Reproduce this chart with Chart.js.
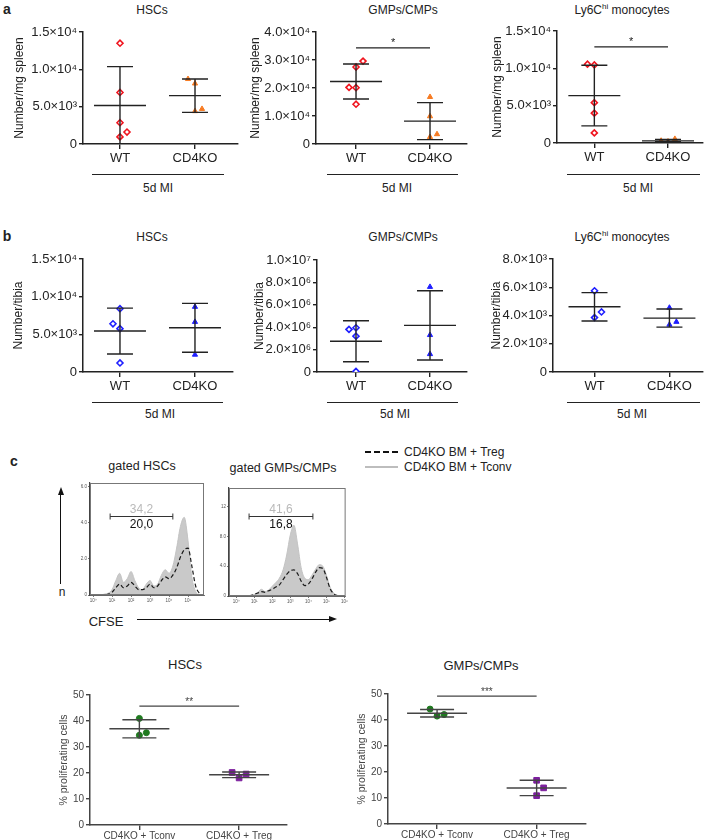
<!DOCTYPE html>
<html>
<head>
<meta charset="utf-8">
<script src="https://cdn.jsdelivr.net/npm/chart.js@4.4.1/dist/chart.umd.min.js"></script>
<style>
  body { margin: 0; background: #fff; }
  #fig { position: relative; width: 708px; height: 840px; overflow: hidden;
         font-family: 'Liberation Sans', Arial, 'DejaVu Sans', sans-serif; color: #222; }
  #fig canvas { position: absolute; }
  .t { position: absolute; white-space: nowrap; transform: translate(-50%, -50%); font-size: 12px; line-height: 1; }
  .pl { font-weight: bold; font-size: 14px; }
  .rule { position: absolute; height: 0; border-top: 1.5px solid #222; }
  .lg { position: absolute; white-space: nowrap; font-size: 12px; line-height: 1; transform: translateY(-50%); }
  sup { font-size: 8px; line-height: 0; }
</style>
</head>
<body>
<div id="fig">
  <!-- panel a -->
  <div class="t pl" style="left:7px;top:9px">a</div>
  <div class="t" style="left:152px;top:10px">HSCs</div>
  <div class="t" style="left:403px;top:10px">GMPs/CMPs</div>
  <div class="t" style="left:622px;top:10px">Ly6C<sup>hi</sup> monocytes</div>
  <div class="rule" style="left:92px;top:174px;width:132px"></div>
  <div class="rule" style="left:327px;top:174px;width:131px"></div>
  <div class="rule" style="left:567px;top:174px;width:133px"></div>
  <div class="t" style="left:158px;top:188px">5d MI</div>
  <div class="t" style="left:397px;top:188px">5d MI</div>
  <div class="t" style="left:638px;top:188px">5d MI</div>

  <!-- panel b -->
  <div class="t pl" style="left:7px;top:236px">b</div>
  <div class="t" style="left:152px;top:237px">HSCs</div>
  <div class="t" style="left:403px;top:237px">GMPs/CMPs</div>
  <div class="t" style="left:622px;top:237px">Ly6C<sup>hi</sup> monocytes</div>
  <div class="rule" style="left:92px;top:402px;width:131px"></div>
  <div class="rule" style="left:327px;top:402px;width:131px"></div>
  <div class="rule" style="left:567px;top:402px;width:133px"></div>
  <div class="t" style="left:160px;top:414px">5d MI</div>
  <div class="t" style="left:395px;top:414px">5d MI</div>
  <div class="t" style="left:632px;top:414px">5d MI</div>

  <!-- panel c -->
  <div class="t pl" style="left:14px;top:461px">c</div>
  <div class="t" style="left:142px;top:466px;font-size:12.5px">gated HSCs</div>
  <div class="t" style="left:283px;top:468px;font-size:12.5px">gated GMPs/CMPs</div>
  <div style="position:absolute;left:365px;top:451px;width:33px;height:2px;background:repeating-linear-gradient(90deg,#111 0 6px,transparent 6px 9px)"></div>
  <div class="lg" style="left:404px;top:452px">CD4KO BM + Treg</div>
  <div style="position:absolute;left:365px;top:466px;width:33px;height:2px;background:#bdbdbd"></div>
  <div class="lg" style="left:404px;top:467px">CD4KO BM + Tconv</div>
  <!-- n arrow -->
  <div style="position:absolute;left:60px;top:494px;width:0;height:90px;border-left:1.3px solid #111"></div>
  <div style="position:absolute;left:57.5px;top:487px;width:0;height:0;border-left:3.5px solid transparent;border-right:3.5px solid transparent;border-bottom:8px solid #111"></div>
  <div class="t" style="left:62px;top:592px;font-size:12px">n</div>
  <!-- CFSE arrow -->
  <div class="t" style="left:106px;top:621px;font-size:13px">CFSE</div>
  <div style="position:absolute;left:137px;top:619px;width:194px;height:0;border-top:1.3px solid #111"></div>
  <div style="position:absolute;left:329px;top:616px;width:0;height:0;border-top:3.5px solid transparent;border-bottom:3.5px solid transparent;border-left:8px solid #111"></div>
  <div class="t" style="left:185px;top:664px;font-size:13px">HSCs</div>
  <div class="t" style="left:481px;top:665px;font-size:13px">GMPs/CMPs</div>

  <canvas id="aHsc"></canvas>
  <canvas id="aGmp"></canvas>
  <canvas id="aLy6c"></canvas>
  <canvas id="bHsc"></canvas>
  <canvas id="bGmp"></canvas>
  <canvas id="bLy6c"></canvas>
  <canvas id="hHsc"></canvas>
  <canvas id="hGmp"></canvas>
  <canvas id="pHsc"></canvas>
  <canvas id="pGmp"></canvas>
</div>

<script>
// ---- data ----
const groupsMI = ['WT', 'CD4KO'];
const groupsCo = ['CD4KO + Tconv', 'CD4KO + Treg'];

// a: spleen, number / mg
const spleenHscWt = [13500, 6900, 2850, 950, 1600];
const spleenHscKo = [8700, 8100, 4700, 4400];
const spleenGmpWt = [29600, 27500, 20200, 20100, 14200];
const spleenGmpKo = [16800, 9900, 2500, 3500];
const spleenLy6cWt = [10550, 10450, 5400, 4000, 1350];
const spleenLy6cKo = [300, 100, 200, 550];

// b: tibia, number / tibia
const tibiaHscWt = [8400, 6400, 5750, 1200];
const tibiaHscKo = [8650, 6650, 2300];
const tibiaGmpWt = [3950000, 3800000, 3200000, 50000];
const tibiaGmpKo = [7600000, 3300000, 1600000];
const tibiaLy6cWt = [5750, 4250, 3850];
const tibiaLy6cKo = [4550, 3550, 3350];

// c: % proliferating cells
const hscTconv = [41.0, 35.5, 34.5];
const hscTreg = [20.2, 18.1, 19.6];
const gmpTconv = [44.2, 42.1, 41.5];
const gmpTreg = [16.8, 13.9, 10.9];

// side offsets of overlapping dots (in dot widths)
const jitSpleenHscWt = [0, 0, 0, 0, 1];
const jitSpleenHscKo = [-1, 0, 1, 0];
const jitSpleenGmpWt = [1, 0, -1, 0, 0];
const jitSpleenGmpKo = [0, 0, 0, 1];
const jitSpleenLy6cWt = [-1, 0, 0, 0, 0];
const jitSpleenLy6cKo = [-1, 0, 0, 1];
const jitTibiaHscWt = [0, -1, 0, 0];
const jitTibiaHscKo = [0, 0, 0];
const jitTibiaGmpWt = [0, -1, 0, 0];
const jitTibiaGmpKo = [0, 0, 0];
const jitTibiaLy6cWt = [0, 1, 0];
const jitTibiaLy6cKo = [0, 1, 0];
const jitHscTconv = [0, 1, 0];
const jitHscTreg = [-1, 0, 1];
const jitGmpTconv = [-1, 1, 0];
const jitGmpTreg = [0, 1, 0];

// y ticks
const ticksSpleenHsc = [0, 5000, 10000, 15000];
const ticksSpleenGmp = [0, 10000, 20000, 30000, 40000];
const ticksSpleenLy6c = [0, 5000, 10000, 15000];
const ticksTibiaHsc = [0, 5000, 10000, 15000];
const ticksTibiaGmp = [0, 2000000, 4000000, 6000000, 8000000, 10000000];
const ticksTibiaLy6c = [0, 2000, 4000, 6000, 8000];
const ticksProlif = [0, 10, 20, 30, 40, 50];

// CFSE histograms (x in decades, y in counts)
const cfseBins = [0, 0.2, 0.4, 0.6, 0.8, 1.0, 1.2, 1.4, 1.6, 1.8, 2.0, 2.2, 2.4, 2.6, 2.8, 3.0,
                  3.2, 3.4, 3.6, 3.8, 4.0, 4.2, 4.4, 4.6, 4.8, 5.0, 5.2, 5.4, 5.6, 5.8, 6.0];
const hscTconvHist = [0, 0, 0, 0.05, 0.1, 0.3, 0.8, 1.2, 0.7, 0.9, 1.3, 0.8, 0.4, 0.3, 0.6, 0.8,
                      0.5, 0.6, 1.1, 1.4, 1.2, 1.6, 2.6, 3.8, 4.3, 3.0, 1.0, 0.2, 0, 0, 0];
const hscTregHist = [0, 0, 0, 0, 0.05, 0.15, 0.4, 0.6, 0.4, 0.5, 0.7, 0.5, 0.3, 0.3, 0.4, 0.6,
                     0.4, 0.5, 0.8, 1.0, 0.9, 1.1, 1.5, 2.1, 2.5, 2.6, 1.6, 0.5, 0.1, 0, 0];
const gmpTconvHist = [0, 0, 0, 0, 0.1, 0.2, 0.5, 0.9, 0.6, 0.8, 1.3, 1.8, 2.4, 3.5, 5.5, 8.2,
                      9.5, 7.0, 3.8, 2.4, 2.2, 2.8, 3.6, 4.2, 4.0, 2.8, 1.2, 0.4, 0.1, 0, 0];
const gmpTregHist = [0, 0, 0, 0, 0.05, 0.2, 0.4, 0.6, 0.5, 0.7, 0.9, 1.2, 1.5, 2.2, 2.9, 3.4,
                     3.5, 3.0, 2.0, 1.4, 1.6, 2.3, 3.2, 3.8, 3.7, 2.5, 1.0, 0.3, 0.05, 0, 0];
const cfseTicksHsc = [0, 1, 2, 3, 4, 5];
const cfseTicksGmp = [0, 1, 2, 3, 4, 5, 6];
const countTicksHsc = [0, 2, 4, 6];
const countTicksGmp = [0, 4, 8, 12];
const hscGatePct = ['34,2', '20,0'];
const gmpGatePct = ['41,6', '16,8'];

// ---- setup ----
const FONT = "'Liberation Sans', Arial, 'DejaVu Sans', sans-serif";
Chart.defaults.font.family = FONT;
Chart.defaults.animation = false;
const JITTER_PX = 7;

const SUP = {'0': '⁰', '1': '¹', '2': '²', '3': '³', '4': '⁴', '5': '⁵', '6': '⁶', '7': '⁷', '8': '⁸', '9': '⁹'};
const sup = n => String(n).split('').map(c => SUP[c]).join('');

function sci(v) {
    if (v === 0) return '0';
    const e = Math.floor(Math.log10(v) + 1e-9);
    return (v / Math.pow(10, e)).toFixed(1) + '×10' + sup(e);
}

const red = '#f0141e', orange = '#f77b22', blue = '#1f1fff', green = '#1f7a1f', purple = '#7d1f9e';
const openDiamond = c => ({style: 'rectRot', radius: 3, fill: '#fff', color: c, width: 1.6});
const triangle = c => ({style: 'triangle', radius: 3, fill: c, color: c, width: 1});
const dot = c => ({style: 'circle', radius: 3, fill: c, color: c, width: 1});
const square = c => ({style: 'rect', radius: 4, fill: c, color: c, width: 1});

const themeMI = {axis: '#222', text: '#222', tickFont: 13, labelFont: 13, titleFont: 12, labelPad: 2,
                 lineWidth: 1.4, axisWidth: 1.5, meanHalf: 26, capHalf: 13, sigFont: 11};
const themeCo = {axis: '#444', text: '#444', tickFont: 10, labelFont: 10, titleFont: 10.5, labelPad: 0,
                 lineWidth: 1.4, axisWidth: 1.5, meanHalf: 30, capHalf: 17, sigFont: 10};

// mean line with SD whiskers, from each dataset's values
const meanSdPlugin = {
    id: 'meanSd',
    afterDatasetsDraw(chart, args, opts) {
        const {ctx, chartArea: c, scales: {x, y}} = chart;
        ctx.save();
        ctx.beginPath();
        ctx.rect(c.left, c.top - 20, c.width, c.height + 20);
        ctx.clip();
        ctx.strokeStyle = opts.color;
        ctx.lineWidth = opts.width;
        chart.data.datasets.forEach(ds => {
            const v = ds.values;
            const mean = v.reduce((a, b) => a + b, 0) / v.length;
            const sd = Math.sqrt(v.reduce((a, b) => a + (b - mean) ** 2, 0) / (v.length - 1));
            const cx = x.getPixelForValue(ds.group);
            const ym = y.getPixelForValue(mean);
            const yt = y.getPixelForValue(mean + sd);
            const yb = y.getPixelForValue(mean - sd);
            ctx.beginPath();
            ctx.moveTo(cx - opts.meanHalf, ym); ctx.lineTo(cx + opts.meanHalf, ym);
            ctx.moveTo(cx, yt); ctx.lineTo(cx, yb);
            ctx.moveTo(cx - opts.capHalf, yt); ctx.lineTo(cx + opts.capHalf, yt);
            ctx.moveTo(cx - opts.capHalf, yb); ctx.lineTo(cx + opts.capHalf, yb);
            ctx.stroke();
        });
        ctx.restore();
    }
};

// significance bar between the two groups
const sigPlugin = {
    id: 'sig',
    afterDraw(chart, args, opts) {
        if (!opts.label) return;
        const {ctx, scales: {x, y}} = chart;
        const x1 = x.getPixelForValue(1), x2 = x.getPixelForValue(2);
        const yy = y.getPixelForValue(opts.level);
        ctx.save();
        ctx.strokeStyle = opts.color;
        ctx.lineWidth = 1.3;
        ctx.beginPath();
        ctx.moveTo(x1, yy); ctx.lineTo(x2, yy);
        ctx.stroke();
        ctx.fillStyle = opts.color;
        ctx.font = opts.size + 'px ' + FONT;
        ctx.textAlign = 'center';
        ctx.textBaseline = 'bottom';
        ctx.fillText(opts.label, (x1 + x2) / 2, yy + 1);
        ctx.restore();
    }
};

// frame + gate for histograms
const histPlugin = {
    id: 'histBox',
    afterDraw(chart, args, opts) {
        const {ctx, chartArea: c, scales: {x, y}} = chart;
        ctx.save();
        ctx.strokeStyle = '#777';
        ctx.lineWidth = 1;
        ctx.strokeRect(c.left + 0.5, c.top + 0.5, c.width - 1, c.height - 1);
        const x1 = x.getPixelForValue(opts.gate[0]), x2 = x.getPixelForValue(opts.gate[1]);
        const yy = Math.round(y.getPixelForValue(opts.level)) + 0.5;
        ctx.strokeStyle = '#333';
        ctx.beginPath();
        ctx.moveTo(x1, yy); ctx.lineTo(x2, yy);
        ctx.moveTo(x1, yy - 3); ctx.lineTo(x1, yy + 3);
        ctx.moveTo(x2, yy - 3); ctx.lineTo(x2, yy + 3);
        ctx.stroke();
        ctx.font = '12px ' + FONT;
        ctx.textAlign = 'center';
        ctx.fillStyle = '#b9b9b9';
        ctx.textBaseline = 'bottom';
        ctx.fillText(opts.pct[0], (x1 + x2) / 2, yy - 1);
        ctx.fillStyle = '#111';
        ctx.textBaseline = 'top';
        ctx.fillText(opts.pct[1], (x1 + x2) / 2, yy + 2);
        ctx.restore();
    }
};

function placeCanvas(id, area, m) {
    const [l, t, r, b] = area;
    const cv = document.getElementById(id);
    const w = r - l + m.l + m.r, h = b - t + m.t + m.b;
    cv.width = w;
    cv.height = h;
    Object.assign(cv.style, {left: (l - m.l) + 'px', top: (t - m.t) + 'px', width: w + 'px', height: h + 'px'});
    return cv;
}

function dotChart(id, cfg) {
    const [l, t, r, b] = cfg.area;
    const m = cfg.margin, th = cfg.theme;
    const cv = placeCanvas(id, cfg.area, m);
    const unitPx = (r - l) / (cfg.xRange[1] - cfg.xRange[0]);
    const datasets = cfg.series.map((s, i) => ({
        values: s.values,
        group: i + 1,
        data: s.values.map((v, k) => ({x: i + 1 + s.jitter[k] * JITTER_PX / unitPx, y: v})),
        pointStyle: s.mark.style,
        pointRadius: s.mark.radius,
        pointBackgroundColor: s.mark.fill,
        pointBorderColor: s.mark.color,
        pointBorderWidth: s.mark.width
    }));
    const grid = {drawOnChartArea: false, drawTicks: true, tickLength: 4, color: th.axis, lineWidth: th.lineWidth};
    const border = {display: true, color: th.axis, width: th.axisWidth};
    return new Chart(cv, {
        type: 'scatter',
        data: {datasets},
        plugins: [meanSdPlugin, sigPlugin],
        options: {
            responsive: false,
            animation: false,
            layout: {padding: {left: 0, top: m.t, right: m.r, bottom: 0}},
            plugins: {
                legend: {display: false},
                tooltip: {enabled: false},
                meanSd: {color: th.axis, width: th.lineWidth, meanHalf: th.meanHalf, capHalf: th.capHalf},
                sig: cfg.sig ? {label: cfg.sig.label, level: cfg.sig.level, color: th.axis, size: th.sigFont} : {}
            },
            scales: {
                x: {
                    type: 'linear',
                    min: cfg.xRange[0],
                    max: cfg.xRange[1],
                    afterBuildTicks: s => { s.ticks = cfg.groups.map((g, i) => ({value: i + 1})); },
                    afterFit: s => { s.height = m.b; },
                    ticks: {callback: v => cfg.groups[Math.round(v) - 1], color: th.text,
                            font: {size: th.labelFont}, padding: th.labelPad, maxRotation: 0, autoSkip: false},
                    grid: {...grid, tickLength: 5},
                    border
                },
                y: {
                    type: 'linear',
                    min: 0,
                    max: cfg.ticks[cfg.ticks.length - 1],
                    afterBuildTicks: s => { s.ticks = cfg.ticks.map(v => ({value: v})); },
                    afterFit: s => { s.width = m.l; },
                    ticks: {callback: cfg.fmt, color: th.text, font: {size: th.tickFont}, padding: 2},
                    grid,
                    border,
                    title: {
                        display: true,
                        text: cfg.yTitle,
                        color: th.text,
                        font: {size: th.titleFont},
                        padding: {top: cfg.yTitleX - (l - m.l) - th.titleFont * 0.6, bottom: 0}
                    }
                }
            }
        }
    });
}

function histChart(id, cfg) {
    const m = {l: 14, t: 4, r: 3, b: 10};
    const cv = placeCanvas(id, cfg.area, m);
    const tiny = {size: 4.5};
    const grid = {drawOnChartArea: false, drawTicks: true, tickLength: 2, color: '#555', lineWidth: 0.8};
    return new Chart(cv, {
        type: 'line',
        data: {
            datasets: [
                {
                    label: 'CD4KO BM + Treg',
                    data: cfseBins.map((d, i) => ({x: d, y: cfg.treg[i]})),
                    borderColor: '#1a1a1a',
                    borderWidth: 1.2,
                    borderDash: [4, 2.5],
                    pointRadius: 0,
                    fill: false,
                    cubicInterpolationMode: 'monotone'
                },
                {
                    label: 'CD4KO BM + Tconv',
                    data: cfseBins.map((d, i) => ({x: d, y: cfg.tconv[i]})),
                    borderColor: '#c3c3c3',
                    backgroundColor: '#c9c9c9',
                    borderWidth: 1,
                    pointRadius: 0,
                    fill: 'origin',
                    cubicInterpolationMode: 'monotone'
                }
            ]
        },
        plugins: [histPlugin],
        options: {
            responsive: false,
            animation: false,
            layout: {padding: {left: 0, top: m.t, right: m.r, bottom: 0}},
            plugins: {
                legend: {display: false},
                tooltip: {enabled: false},
                histBox: {gate: cfg.gate, level: cfg.gateLevel, pct: cfg.pct}
            },
            scales: {
                x: {
                    type: 'linear',
                    min: cfg.xRange[0],
                    max: cfg.xRange[1],
                    afterBuildTicks: s => { s.ticks = cfg.xTicks.map(v => ({value: v})); },
                    afterFit: s => { s.height = m.b; },
                    ticks: {callback: v => '10' + sup(v), font: tiny, color: '#555', padding: 1, maxRotation: 0, autoSkip: false},
                    grid,
                    border: {display: true, color: '#666', width: 1}
                },
                y: {
                    type: 'linear',
                    min: 0,
                    max: cfg.yMax,
                    afterBuildTicks: s => { s.ticks = cfg.yTicks.map(v => ({value: v})); },
                    afterFit: s => { s.width = m.l; },
                    ticks: {callback: v => v === 0 ? '0' : (v < 10 ? v.toFixed(1) : String(v)),
                            font: tiny, color: '#555', padding: 1},
                    grid,
                    border: {display: true, color: '#444', width: 1.2}
                }
            }
        }
    });
}

// ---- panel a ----
dotChart('aHsc', {
    area: [83, 32, 238, 144], margin: {l: 83, t: 14, r: 6, b: 26}, theme: themeMI,
    xRange: [0.507, 2.573], groups: groupsMI, ticks: ticksSpleenHsc, fmt: sci,
    yTitle: 'Number/mg spleen', yTitleX: 20,
    series: [
        {values: spleenHscWt, jitter: jitSpleenHscWt, mark: openDiamond(red)},
        {values: spleenHscKo, jitter: jitSpleenHscKo, mark: triangle(orange)}
    ]
});
dotChart('aGmp', {
    area: [316, 32, 467, 144], margin: {l: 72, t: 14, r: 6, b: 26}, theme: themeMI,
    xRange: [0.459, 2.5], groups: groupsMI, ticks: ticksSpleenGmp, fmt: sci,
    yTitle: 'Number/mg spleen', yTitleX: 256,
    sig: {label: '*', level: 34300},
    series: [
        {values: spleenGmpWt, jitter: jitSpleenGmpWt, mark: openDiamond(red)},
        {values: spleenGmpKo, jitter: jitSpleenGmpKo, mark: triangle(orange)}
    ]
});
dotChart('aLy6c', {
    area: [557, 31, 705, 143], margin: {l: 72, t: 14, r: 3, b: 26}, theme: themeMI,
    xRange: [0.493, 2.467], groups: groupsMI, ticks: ticksSpleenLy6c, fmt: sci,
    yTitle: 'Number/mg spleen', yTitleX: 498,
    sig: {label: '*', level: 12870},
    series: [
        {values: spleenLy6cWt, jitter: jitSpleenLy6cWt, mark: openDiamond(red)},
        {values: spleenLy6cKo, jitter: jitSpleenLy6cKo, mark: triangle(orange)}
    ]
});

// ---- panel b ----
dotChart('bHsc', {
    area: [83, 259, 233, 372], margin: {l: 83, t: 14, r: 6, b: 26}, theme: themeMI,
    xRange: [0.507, 2.507], groups: groupsMI, ticks: ticksTibiaHsc, fmt: sci,
    yTitle: 'Number/tibia', yTitleX: 19,
    series: [
        {values: tibiaHscWt, jitter: jitTibiaHscWt, mark: openDiamond(blue)},
        {values: tibiaHscKo, jitter: jitTibiaHscKo, mark: triangle(blue)}
    ]
});
dotChart('bGmp', {
    area: [317, 260, 467, 372], margin: {l: 72, t: 14, r: 6, b: 26}, theme: themeMI,
    xRange: [0.473, 2.5], groups: groupsMI, ticks: ticksTibiaGmp, fmt: sci,
    yTitle: 'Number/tibia', yTitleX: 260,
    series: [
        {values: tibiaGmpWt, jitter: jitTibiaGmpWt, mark: openDiamond(blue)},
        {values: tibiaGmpKo, jitter: jitTibiaGmpKo, mark: triangle(blue)}
    ]
});
dotChart('bLy6c', {
    area: [553, 259, 703, 372], margin: {l: 68, t: 14, r: 5, b: 26}, theme: themeMI,
    xRange: [0.446, 2.44], groups: groupsMI, ticks: ticksTibiaLy6c, fmt: sci,
    yTitle: 'Number/tibia', yTitleX: 497,
    series: [
        {values: tibiaLy6cWt, jitter: jitTibiaLy6cWt, mark: openDiamond(blue)},
        {values: tibiaLy6cKo, jitter: jitTibiaLy6cKo, mark: triangle(blue)}
    ]
});

// ---- panel c: CFSE histograms ----
histChart('hHsc', {
    area: [90, 483, 204, 595], xRange: [-0.16, 5.84], yMax: 6.2,
    xTicks: cfseTicksHsc, yTicks: countTicksHsc,
    tconv: hscTconvHist, treg: hscTregHist,
    gate: [0.9, 4.2], gateLevel: 4.37, pct: hscGatePct
});
histChart('hGmp', {
    area: [229, 488, 346, 596], xRange: [-0.39, 6.06], yMax: 14.5,
    xTicks: cfseTicksGmp, yTicks: countTicksGmp,
    tconv: gmpTconvHist, treg: gmpTregHist,
    gate: [0.72, 4.25], gateLevel: 10.8, pct: gmpGatePct
});

// ---- panel c: % proliferating ----
dotChart('pHsc', {
    area: [90, 695, 287, 825], margin: {l: 50, t: 12, r: 6, b: 16}, theme: themeCo,
    xRange: [0.505, 2.48], groups: groupsCo, ticks: ticksProlif, fmt: v => String(v),
    yTitle: '% proliferating cells', yTitleX: 64,
    sig: {label: '**', level: 45.7},
    series: [
        {values: hscTconv, jitter: jitHscTconv, mark: dot(green)},
        {values: hscTreg, jitter: jitHscTreg, mark: square(purple)}
    ]
});
dotChart('pGmp', {
    area: [388, 694, 586, 824], margin: {l: 50, t: 12, r: 6, b: 16}, theme: themeCo,
    xRange: [0.507, 2.496], groups: groupsCo, ticks: ticksProlif, fmt: v => String(v),
    yTitle: '% proliferating cells', yTitleX: 362,
    sig: {label: '***', level: 49.2},
    series: [
        {values: gmpTconv, jitter: jitGmpTconv, mark: dot(green)},
        {values: gmpTreg, jitter: jitGmpTreg, mark: square(purple)}
    ]
});
</script>
</body>
</html>
